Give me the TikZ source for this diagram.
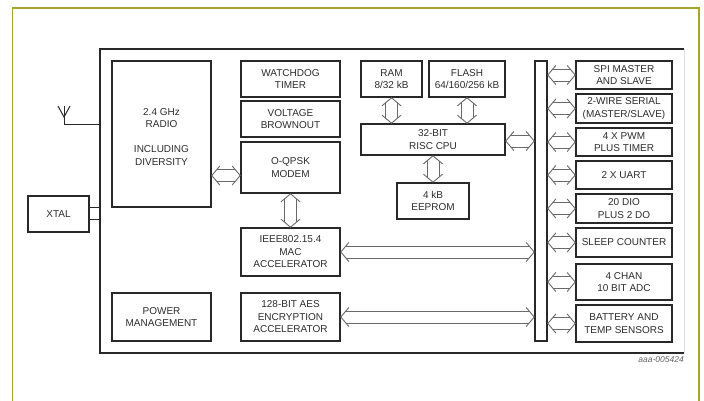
\documentclass[tikz,border=0pt]{standalone}
\usepackage{fontspec}
\setmainfont{Liberation Sans}
\usetikzlibrary{calc}
\definecolor{frameolive}{RGB}{168,164,44}
\definecolor{boxline}{RGB}{40,40,40}
\definecolor{arrline}{RGB}{105,105,105}
\definecolor{txt}{RGB}{45,45,45}
\tikzset{
  blk/.style={draw=boxline, line width=1.6pt, text=txt, align=center, inner sep=0pt,
    font=\fontsize{10}{12.5}\selectfont},
  arr/.style={draw=arrline, line width=0.9pt, line join=miter},
  wire/.style={draw=boxline, line width=1pt},
}
\newcommand\hollowarrow[2]{%
  \coordinate (ha) at #1; \coordinate (hb) at #2;
  \draw[arr] ($(ha)!8pt!(hb)!9.5pt!90:(hb)$) -- (ha) -- ($(ha)!8pt!(hb)!9.5pt!-90:(hb)$);
  \draw[arr] ($(hb)!8pt!(ha)!9.5pt!90:(ha)$) -- (hb) -- ($(hb)!8pt!(ha)!9.5pt!-90:(ha)$);
  \draw[arr] ($(ha)!5pt!(hb)!6pt!90:(hb)$) -- ($(hb)!5pt!(ha)!6pt!-90:(ha)$);
  \draw[arr] ($(ha)!5pt!(hb)!6pt!-90:(hb)$) -- ($(hb)!5pt!(ha)!6pt!90:(ha)$);
}
\begin{document}
\begin{tikzpicture}[x=1pt,y=-1pt]
\useasboundingbox (0,0) rectangle (704,400);
\fill[white] (0,0) rectangle (704,400);
% outer olive frame
\draw[frameolive, line width=1.5pt] (12.7,8) rectangle (699,410);
% chip frame
\node[minimum width=584, minimum height=304, inner sep=0pt] (chip) at (392,201) {};
\draw[gray!25, line width=1.2pt] (chip.north east) -- (chip.south east);
\draw[boxline, line width=2pt] (chip.north east) -- (chip.north west) -- (chip.south west) -- (chip.south east);

% blocks
\node[blk, minimum width=99, minimum height=146] (radio) at (161.5,134) {};
\node[text=txt, align=center, font=\fontsize{10}{12.5}\selectfont] (radiotxt) at (161.5,137) {2.4 GHz\\RADIO\\[12.5pt]INCLUDING\\DIVERSITY};
\node[blk, minimum width=99, minimum height=36] (wd) at (290.5,79) {WATCHDOG\\TIMER};
\node[blk, minimum width=99, minimum height=36] (volt) at (290.5,119) {VOLTAGE\\BROWNOUT};
\node[blk, minimum width=99, minimum height=51] (modem) at (290.5,167.5) {O-QPSK\\MODEM};
\node[blk, minimum width=99, minimum height=48] (mac) at (290.5,252) {IEEE802.15.4\\MAC\\ACCELERATOR};
\node[blk, minimum width=99, minimum height=48] (aes) at (290.5,317) {128-BIT AES\\ENCRYPTION\\ACCELERATOR};
\node[blk, minimum width=99, minimum height=48] (power) at (161.5,317) {POWER\\MANAGEMENT};
\node[blk, minimum width=61, minimum height=36] (xtal) at (58.5,214) {XTAL};
\node[blk, minimum width=61, minimum height=36] (ram) at (391.5,79) {RAM\\8/32 kB};
\node[blk, minimum width=76, minimum height=36] (flash) at (467,79) {FLASH\\64/160/256 kB};
\node[blk, minimum width=144, minimum height=31] (cpu) at (433,139.5) {32-BIT\\RISC CPU};
\node[blk, minimum width=72, minimum height=36] (eeprom) at (433,201) {4 kB\\EEPROM};
\node[blk, minimum width=12, minimum height=280] (bus) at (541,201) {};
\node[blk, minimum width=96, minimum height=28] (spi) at (624,75) {SPI MASTER\\AND SLAVE};
\node[blk, minimum width=96, minimum height=29] (twi) at (624,108.5) {2-WIRE SERIAL\\(MASTER/SLAVE)};
\node[blk, minimum width=96, minimum height=28] (pwm) at (624,142) {4 X PWM\\PLUS TIMER};
\node[blk, minimum width=96, minimum height=28] (uart) at (624,175) {2 X UART};
\node[blk, minimum width=96, minimum height=29] (dio) at (624,208.5) {20 DIO\\PLUS 2 DO};
\node[blk, minimum width=96, minimum height=29] (sleep) at (624,242.5) {SLEEP COUNTER};
\node[blk, minimum width=96, minimum height=36] (adc) at (624,282) {4 CHAN\\10 BIT ADC};
\node[blk, minimum width=96, minimum height=37] (batt) at (624,323.5) {BATTERY AND\\TEMP SENSORS};

% antenna
\coordinate (ant) at (64,124);
\coordinate (anttop) at (64,106);
\coordinate (antv) at (64,117);
\draw[wire] (chip.west |- ant) -- (ant) -- (anttop);
\draw[wire] ($(anttop)+(-6,0)$) -- (antv) -- ($(anttop)+(6,0)$);
% xtal wires
\draw[wire] (xtal.east |- 0,207.5) -- (chip.west |- 0,207.5);
\draw[wire] (xtal.east |- 0,219) -- (chip.west |- 0,219);

% hollow arrows
\hollowarrow{(radio.east |- 0,175.5)}{(modem.west |- 0,175.5)}
\hollowarrow{(modem.south)}{(mac.north)}
\hollowarrow{(ram.south)}{(ram.south |- cpu.north)}
\hollowarrow{(flash.south)}{(flash.south |- cpu.north)}
\hollowarrow{(cpu.south)}{(eeprom.north)}
\hollowarrow{(cpu.east |- 0,141)}{(bus.west |- 0,141)}
\hollowarrow{(mac.east)}{(bus.west |- mac.east)}
\hollowarrow{(aes.east)}{(bus.west |- aes.east)}
\foreach \p in {spi,twi,pwm,uart,dio,sleep,adc,batt}{
  \hollowarrow{(bus.east |- \p.west)}{(\p.west)}
}

\node[anchor=east, inner sep=0pt, text=black!60, font=\fontsize{8.5}{10}\itshape\selectfont] (ref) at (684,360) {aaa-005424};
\end{tikzpicture}
\end{document}
